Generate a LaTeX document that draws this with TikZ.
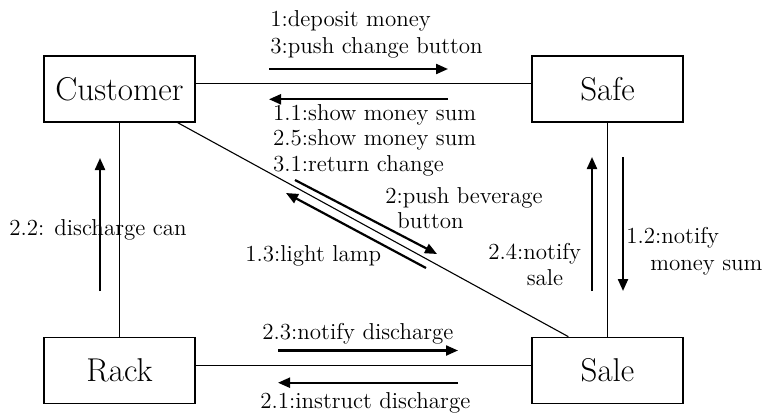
\documentclass[tikz,border=0pt]{standalone}
\usetikzlibrary{arrows.meta}
\begin{document}
\begin{tikzpicture}[x=0.5pt,y=-0.5pt,
  obj/.style={draw, line width=0.65pt, minimum width=75.5pt, minimum height=33pt,
    inner sep=0pt, font=\fontsize{16.5}{18}\selectfont},
  link/.style={line width=0.55pt},
  msg/.style={line width=1.1pt, -{Triangle[length=6pt,width=5pt]}},
  lbl/.style={anchor=base west, inner sep=0pt, font=\fontsize{11.5}{12.5}\selectfont},
  lblc/.style={lbl, anchor=base}]
\useasboundingbox (0,0) rectangle (765,413);

% objects
\node[obj] (cust) at (119.5,89)    {Customer};
\node[obj] (safe) at (607.5,89)    {Safe};
\node[obj] (rack) at (119.5,370.3) {Rack};
\node[obj] (sale) at (607.5,370.3) {Sale};

% links
\draw[link] ([yshift=2.85pt]cust.east) -- ([yshift=2.85pt]safe.west);
\draw[link] (cust) -- (rack);
\draw[link] (safe) -- (sale);
\draw[link] ([yshift=2.3pt]rack.east) -- ([yshift=2.3pt]sale.west);
\draw[link] ([xshift=-9pt]cust.south east) -- ([xshift=18.5pt]sale.north west);

% Customer <-> Safe
\draw[msg] (269,69) -- (448,69);
\draw[msg] (448,99.3) -- (269,99.3);
\node[lbl] (m1)  at (270,26.7)    {1:deposit money};
\node[lbl] (m3)  at (270,53)      {3:push change button};
\node[lbl] (m11) at (272.7,120.7) {1.1:show money sum};
\node[lbl] (m25) at (272.7,145.7) {2.5:show money sum};
\node[lbl] (m31) at (272.7,171.7) {3.1:return change};

% Customer <-> Sale
\draw[msg] (295,180) -- (437,254);
\draw[msg] (426,268) -- (286,193);
\node[lbl] (m2a) at (385,203) {2:push beverage};
\node[lbl] (m2b) at (397,228) {button};
\node[lbl] (m13) at (245,261.7) {1.3:light lamp};

% Rack -> Customer
\draw[msg] (100,291) -- (100,158);
\node[lbl] (m22) at (9,235) {2.2: discharge can};

% Safe <-> Sale
\draw[msg] (592,291) -- (592,157);
\draw[msg] (623,157) -- (623,291);
\node[lbl]  (m24a) at (488,259) {2.4:notify};
\node[lblc] (m24b) at (545,285) {sale};
\node[lbl]  (m12a) at (626,243.3) {1.2:notify};
\node[lbl]  (m12b) at (650,270) {money sum};

% Rack <-> Sale
\draw[msg] (278,350.5) -- (458,350.5);
\draw[msg] (458,382.7) -- (278,382.7);
\node[lbl] (m23) at (262,339.3) {2.3:notify discharge};
\node[lbl] (m21) at (260,408)   {2.1:instruct discharge};
\end{tikzpicture}
\end{document}
